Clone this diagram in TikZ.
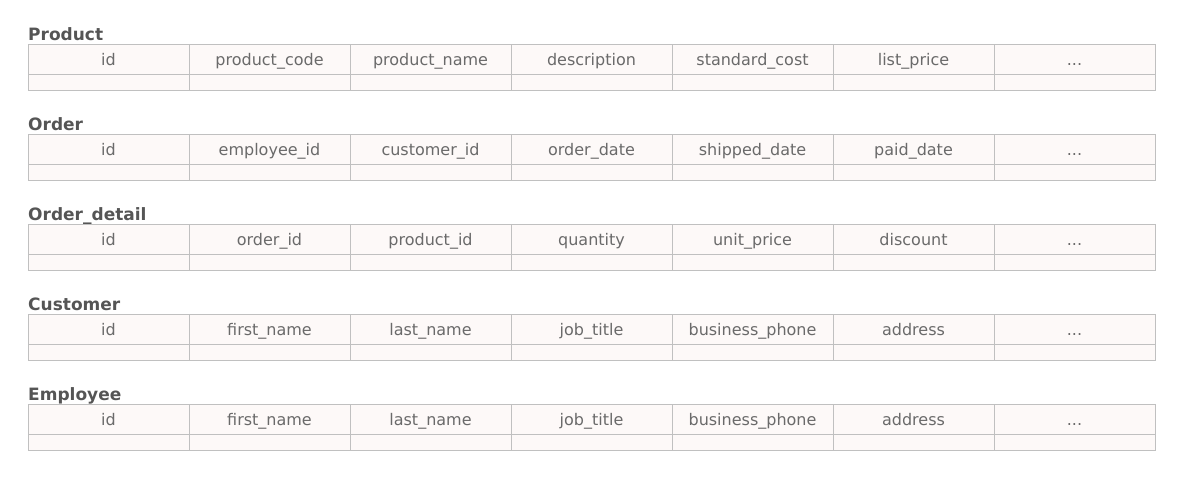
\documentclass[tikz,border=0pt]{standalone}
\usepackage{fontspec}
\setmainfont{DejaVu Sans}
\definecolor{cellfill}{HTML}{FDF9F8}
\definecolor{gridline}{HTML}{C0C0C0}
\definecolor{celltext}{HTML}{6A6A6A}
\definecolor{titletext}{HTML}{555555}
\newcommand\celldots{...}
\tikzset{
  cellbox/.style={draw=gridline, line width=1pt, fill=cellfill},
  celllabel/.style={anchor=base, inner sep=0pt, text=celltext, font=\fontsize{16}{19}\selectfont},
  tabletitle/.style={anchor=base west, inner sep=0pt, text=titletext, font=\fontsize{17}{20}\selectfont\bfseries},
}
\begin{document}
\begin{tikzpicture}[x=1pt,y=-1pt]
\useasboundingbox (0,0) rectangle (1186,480);
\foreach \k/\title/\a/\b/\c/\d/\e/\f in {
  0/Product/id/product\_code/product\_name/description/standard\_cost/list\_price,
  1/Order/id/employee\_id/customer\_id/order\_date/shipped\_date/paid\_date,
  2/Order\_detail/id/order\_id/product\_id/quantity/unit\_price/discount,
  3/Customer/id/first\_name/last\_name/job\_title/business\_phone/address,
  4/Employee/id/first\_name/last\_name/job\_title/business\_phone/address}{
  \pgfmathsetmacro{\yt}{44+90*\k}
  \node[tabletitle] (t\k) at (28,\yt-3.5) {\title};
  \foreach \i/\txt in {0/\a,1/\b,2/\c,3/\d,4/\e,5/\f,6/\celldots}{
    \pgfmathsetmacro{\xl}{28+161*\i}
    \path[cellbox] (\xl,\yt) rectangle (\xl+161,\yt+30);
    \path[cellbox] (\xl,\yt+30) rectangle (\xl+161,\yt+46);
    \node[celllabel] (c\k-\i) at (\xl+80.5,\yt+21) {\txt};
  }
}
\end{tikzpicture}
\end{document}
